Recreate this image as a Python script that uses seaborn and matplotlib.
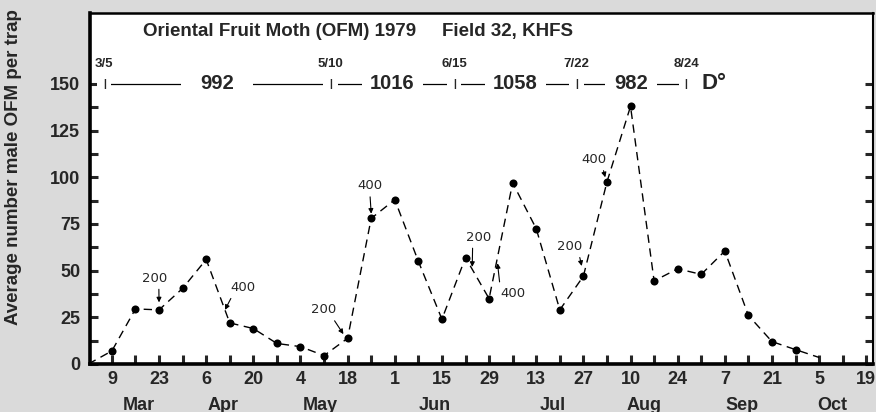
# -*- coding: utf-8 -*-
# capturas semanales de polilla oriental (OFM), campo 32, KHFS, 1979

import numpy as np
import pandas as pd
import matplotlib.pyplot as plt
import matplotlib.dates as mdates
import seaborn as sns

# datos
fechas = [
    "1979-03-02", "1979-03-09", "1979-03-16", "1979-03-23", "1979-03-30",
    "1979-04-06", "1979-04-13", "1979-04-20", "1979-04-27", "1979-05-04",
    "1979-05-11", "1979-05-18", "1979-05-25", "1979-06-01", "1979-06-08",
    "1979-06-15", "1979-06-22", "1979-06-29", "1979-07-06", "1979-07-13",
    "1979-07-20", "1979-07-27", "1979-08-03", "1979-08-10", "1979-08-17",
    "1979-08-24", "1979-08-31", "1979-09-07", "1979-09-14", "1979-09-21",
    "1979-09-28", "1979-10-05",
]
ofm = [
    0, 7, 29.5, 29, 40.5, 56, 22, 19, 11, 9.3, 4.5, 13.8, 78, 88, 55, 24,
    57, 35, 97, 72.5, 29, 47, 97.5, 138, 44.5, 51, 48, 60.5, 26, 12, 7.7, 3.5,
]

# etiquetas eje x
xtick_fechas = [
    "1979-03-09", "1979-03-23", "1979-04-06", "1979-04-20", "1979-05-04",
    "1979-05-18", "1979-06-01", "1979-06-15", "1979-06-29", "1979-07-13",
    "1979-07-27", "1979-08-10", "1979-08-24", "1979-09-07", "1979-09-21",
    "1979-10-05", "1979-10-19",
]
xtick_labels = ["9", "23", "6", "20", "4", "18", "1", "15", "29", "13",
                "27", "10", "24", "7", "21", "5", "19"]
meses = ["Mar", "Apr", "May", "Jun", "Jul", "Aug", "Sep", "Oct"]
meses_fechas = ["1979-03-17", "1979-04-11", "1979-05-10", "1979-06-13",
                "1979-07-18", "1979-08-14", "1979-09-12", "1979-10-09"]

# grados dia entre fechas (posicion de las marcas)
corte_pos = ["1979-03-06 18:00", "1979-05-12 22:00", "1979-06-18 16:00",
             "1979-07-24 22:00", "1979-08-26 12:00"]
corte_labels = ["3/5", "5/10", "6/15", "7/22", "8/24"]
grados_dia = ["992", "1016", "1058", "982"]
gd_pad = [0.95, 0.4, 0.4, 0.45]

# anotaciones de trampas (texto, posicion texto, punta flecha, salida flecha)
ann_text = ["200", "400", "200", "400", "200", "400", "200", "400"]
ann_text_pos = [("1979-03-21 14:00", 46), ("1979-04-17", 41), ("1979-05-11", 29),
                ("1979-05-24 14:00", 95.5), ("1979-06-26", 68),
                ("1979-07-06", 38), ("1979-07-23", 63), ("1979-07-30", 109.5)]
ann_head = [("1979-03-23", 33), ("1979-04-11 14:00", 29), ("1979-05-16 18:00", 16),
            ("1979-05-25", 80.5), ("1979-06-24", 52), ("1979-07-01 12:00", 54),
            ("1979-07-26 12:00", 52.5), ("1979-08-02 12:00", 100)]
ann_relpos = [(0.68, 0), (0.1, 0), (0.8, 0), (0.5, 0), (0.25, 0), (0.0, 1.0),
              (0.85, 0), (0.85, 0)]

df = pd.DataFrame({"fecha": pd.to_datetime(fechas), "ofm": ofm})

sns.set_theme(style="ticks")
plt.rcParams["font.family"] = ["Liberation Sans", "DejaVu Sans"]
plt.rcParams["font.weight"] = "bold"

fig = plt.figure(figsize=(8.76, 4.12), dpi=100, facecolor="#dadada")
ax = fig.add_axes([90 / 876, 1 - 364 / 412, 783 / 876, 351 / 412])
ax.set_facecolor("white")

sns.lineplot(data=df, x="fecha", y="ofm", ax=ax, color="black", lw=1.0,
             linestyle=(0, (6, 4)), marker="o", markersize=5.8,
             markeredgewidth=0, markevery=list(range(1, len(ofm) - 1)),
             zorder=5)

# ejes
xt = pd.to_datetime(xtick_fechas)
ax.set_xticks(xt)
ax.set_xticklabels(xtick_labels)
ax.set_xticks(xt[:-1] + pd.Timedelta(days=7), minor=True)
ax.set_yticks([0, 25, 50, 75, 100, 125, 150])
ax.set_yticks(np.arange(12.5, 150, 25), minor=True)
ax.set_xlim(pd.Timestamp("1979-03-02 12:00"), pd.Timestamp("1979-10-21"))
ax.set_ylim(0, 188)
ax.tick_params(axis="x", which="both", direction="in", length=6.5, width=2.2,
               top=False, labelsize=13, pad=5)
ax.tick_params(axis="y", which="both", direction="in", length=5.5, width=2.2,
               right=True, labelsize=13, pad=7)
ax.set_xlabel("")
ax.set_ylabel("")
for lab in ax.get_xticklabels() + ax.get_yticklabels():
    lab.set_fontweight("bold")

for s, w in zip(["left", "bottom", "top", "right"], [2.6, 2.6, 1.8, 1.5]):
    ax.spines[s].set_visible(True)
    ax.spines[s].set_linewidth(w)
    ax.spines[s].set_color("black")

# meses
for m, f in zip(meses, meses_fechas):
    ax.text(pd.Timestamp(f), -0.117, m, transform=ax.get_xaxis_transform(),
            ha="center", va="center", fontsize=13, fontweight="bold", clip_on=False)

fig.text(14 / 876, 1 - 167 / 412, "Average number male OFM per trap",
         rotation=90, ha="center", va="center", fontsize=13.5, fontweight="bold")

# titulo
ax.text(0.0677, 0.948, "Oriental Fruit Moth (OFM) 1979", transform=ax.transAxes,
        ha="left", va="center", fontsize=13.5, fontweight="bold")
ax.text(0.449, 0.948, "Field 32, KHFS", transform=ax.transAxes,
        ha="left", va="center", fontsize=13.5, fontweight="bold")

# barra de grados dia
cortes = pd.to_datetime(corte_pos)
ax.plot([cortes[0], cortes[-1]], [150, 150], color="black", lw=0.9, zorder=2)
for c, lab in zip(cortes, corte_labels):
    ax.text(c, 150, "|", ha="center", va="center", fontsize=7.5, fontweight="bold",
            bbox=dict(boxstyle="square,pad=0.55", fc="white", ec="none"), zorder=4)
    ax.text(c, 160.7, lab, ha="center", va="center", fontsize=9.5, fontweight="bold")
for i, gd in enumerate(grados_dia):
    mid = cortes[i] + (cortes[i + 1] - cortes[i]) / 2
    ax.text(mid, 150, gd, ha="center", va="center", fontsize=14.5, fontweight="bold",
            bbox=dict(boxstyle="square,pad=%s" % gd_pad[i], fc="white", ec="none"),
            zorder=4)
ax.annotate("D°", xy=(cortes[-1], 150), xytext=(11, 0), textcoords="offset points",
            ha="left", va="center", fontsize=16, fontweight="bold")

# anotaciones 200 / 400
for t, (ft, vt), (fh, vh), rp in zip(ann_text, ann_text_pos, ann_head, ann_relpos):
    ax.annotate(t, xy=(mdates.date2num(pd.Timestamp(fh)), vh),
                xytext=(mdates.date2num(pd.Timestamp(ft)), vt),
                ha="center", va="center", fontsize=9.5, fontweight="normal",
                family="DejaVu Sans",
                arrowprops=dict(arrowstyle="-|>", color="black", lw=0.8,
                                mutation_scale=7, shrinkA=1, shrinkB=0, relpos=rp))

fig.savefig("out.png", dpi=100, facecolor=fig.get_facecolor())
plt.close()
